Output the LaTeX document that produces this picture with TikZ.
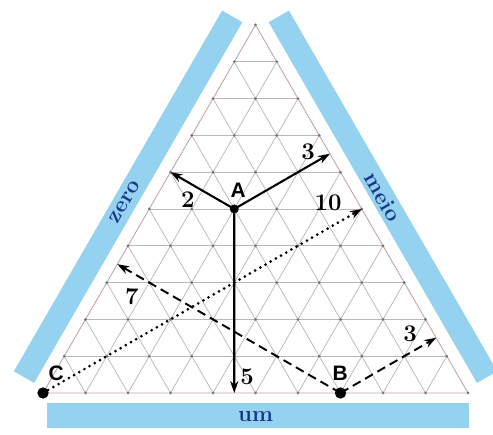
\documentclass[tikz,border=0pt]{standalone}
\usepackage{fontspec}
\newfontfamily\lblfont{Liberation Sans}
\usetikzlibrary{arrows.meta}
\definecolor{barblue}{RGB}{148,210,240}
\definecolor{txtblue}{RGB}{25,55,145}
\definecolor{gridgray}{RGB}{185,183,183}
\definecolor{edgegray}{RGB}{195,165,165}
\tikzset{
  bar/.style={fill=barblue},
  bartext/.style={text=txtblue, font=\fontsize{15}{18}\selectfont\bfseries},
  pointlabel/.style={font=\lblfont\fontsize{14}{16}\selectfont\bfseries},
  numlabel/.style={font=\fontsize{16}{18}\selectfont\bfseries},
  tip/.style={-{Stealth[length=8pt,width=5.5pt]}},
}

\begin{document}
\begin{tikzpicture}
	\useasboundingbox (-1.012,-0.965) rectangle (10.588,9.247);
	% blue bars with side names
	\fill[bar] (0.09,-0.82) rectangle (10.02,-0.24);
	\node[bartext] (um) at (5,-0.55) {um};
	\begin{scope}[rotate=60]
		\fill[bar] (0.1,0.3) rectangle (9.9,0.85);
		\node[bartext, rotate=60] (zero) at (4.85,0.575) {zero};
	\end{scope}
	\begin{scope}[shift={(10,0)}, rotate=120]
		\fill[bar] (0.1,-0.3) rectangle (9.9,-0.85);
		\node[bartext, rotate=-60] (meio) at (5.0,-0.575) {meio};
	\end{scope}
	% triangular grid
	\begin{scope}[x={(1cm,0cm)}, y={(0.5cm,0.866cm)}]
		\foreach \k in {1,...,9} {
			\draw[gridgray, line width=0.5pt] (0,\k) -- ({10-\k},\k);
			\draw[gridgray, line width=0.5pt] (\k,0) -- (\k,{10-\k});
			\draw[gridgray, line width=0.5pt] (\k,0) -- (0,\k);
		}
		\draw[edgegray, line width=0.6pt] (0,0) -- (10,0) -- (0,10) -- cycle;
		\foreach \j in {0,...,10} {
			\pgfmathtruncatemacro\imax{10-\j}
			\foreach \i in {0,...,\imax}
				\fill[black!55] (\i,\j) circle (1pt);
		}
		\coordinate (C) at (0,0);
		\coordinate (B) at (7,0);
		\coordinate (A) at (2,5);
		\coordinate (Aleft) at (0,6);
		\coordinate (Aright) at (3.5,6.5);
		\coordinate (Abot) at (4.5,0);
		\coordinate (Cright) at (5,5);
		\coordinate (Bleft) at (0,3.5);
		\coordinate (Bright) at (8.5,1.5);
	\end{scope}
	% distances from the points to the sides
	\draw[tip, line width=1.4pt] (A) -- (Aleft);
	\draw[tip, line width=1.4pt] (A) -- (Aright);
	\draw[tip, line width=1.4pt] (A) -- (Abot);
	\draw[tip, line width=2pt, line cap=round, dash pattern=on 0pt off 4pt] (C) -- (Cright);
	\draw[tip, line width=1.3pt, dash pattern=on 6pt off 3.5pt] (B) -- (Bleft);
	\draw[tip, line width=1.3pt, dash pattern=on 6pt off 3.5pt] (B) -- (Bright);
	\fill (A) circle (3pt);
	\fill (B) circle (3.8pt);
	\fill (C) circle (3.8pt);
	\node[pointlabel] (labA) at (4.59,4.76) {A};
	\node[pointlabel] (labB) at (6.99,0.47) {B};
	\node[pointlabel] (labC) at (0.31,0.47) {C};
	\node[numlabel] (numAl) at (3.41,4.54) {2};
	\node[numlabel] (numAr) at (6.24,5.67) {3};
	\node[numlabel] (numAb) at (4.8,0.38) {5};
	\node[numlabel] (numC) at (6.71,4.47) {10};
	\node[numlabel] (numBl) at (2.09,2.26) {7};
	\node[numlabel] (numBr) at (8.64,1.4) {3};
\end{tikzpicture}
\end{document}
